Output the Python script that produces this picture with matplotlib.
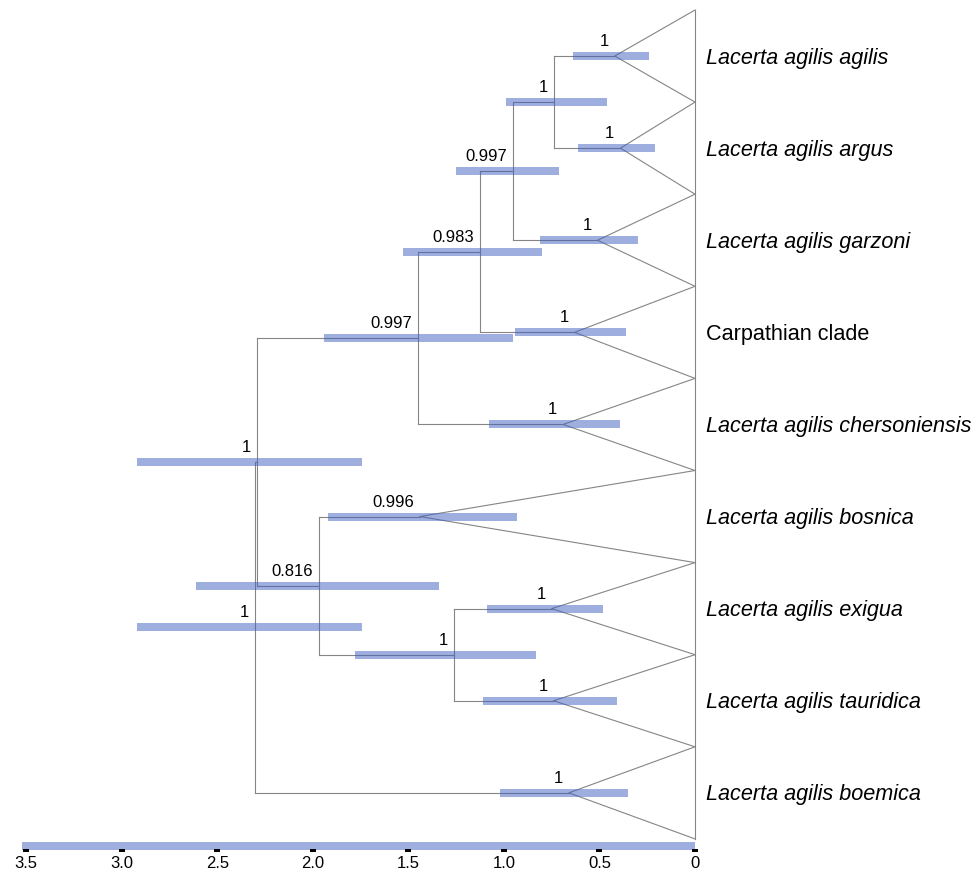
import matplotlib
matplotlib.use("Agg")
import matplotlib.pyplot as plt

plt.rcParams["font.family"] = ["Liberation Sans", "DejaVu Sans"]

# collapsed clades, top to bottom (ages in Myr)
tip_keys = ["agilis", "argus", "garzoni", "carpathian", "chersoniensis",
            "bosnica", "exigua", "tauridica", "boemica"]
tip_labels = ["Lacerta agilis agilis", "Lacerta agilis argus", "Lacerta agilis garzoni",
              "Carpathian clade", "Lacerta agilis chersoniensis", "Lacerta agilis bosnica",
              "Lacerta agilis exigua", "Lacerta agilis tauridica", "Lacerta agilis boemica"]
tip_age = [0.42, 0.39, 0.51, 0.63, 0.69, 1.44, 0.75, 0.74, 0.66]
tip_hpd_lo = [0.24, 0.21, 0.30, 0.36, 0.39, 0.93, 0.48, 0.41, 0.35]
tip_hpd_hi = [0.64, 0.61, 0.81, 0.94, 1.08, 1.92, 1.09, 1.11, 1.02]
tip_post = [1, 1, 1, 1, 1, 0.996, 1, 1, 1]

# internal nodes (children listed before parents)
node_names = ["D", "C", "B", "A", "F", "E", "R1", "R0"]
node_children = [("agilis", "argus"), ("D", "garzoni"), ("C", "carpathian"),
                 ("B", "chersoniensis"), ("exigua", "tauridica"), ("bosnica", "F"),
                 ("A", "E"), ("R1", "boemica")]
node_age = [0.74, 0.95, 1.125, 1.45, 1.26, 1.97, 2.29, 2.305]
node_hpd_lo = [0.46, 0.71, 0.80, 0.95, 0.83, 1.34, 1.74, 1.74]
node_hpd_hi = [0.99, 1.25, 1.53, 1.94, 1.78, 2.61, 2.92, 2.92]
node_post = [1, 0.997, 0.983, 0.997, 1, 0.816, 1, 1]

scale_ticks = [3.5, 3.0, 2.5, 2.0, 1.5, 1.0, 0.5, 0]
scale_labels = ["3.5", "3.0", "2.5", "2.0", "1.5", "1.0", "0.5", "0"]
scale_max = 3.52

line_col = "#858585"
bar_col = "#3f5fbf"
bar_h = 0.087

fig = plt.figure(figsize=(9.79, 8.71), dpi=100)
ax = fig.add_axes([0, 19 / 871, 1, 852 / 871])

age = dict(zip(tip_keys, tip_age))
ypos = {k: i + 0.5 for i, k in enumerate(tip_keys)}
for name, kids, a in zip(node_names, node_children, node_age):
    age[name] = a
    ypos[name] = (ypos[kids[0]] + ypos[kids[1]]) / 2

# elbow branches
for name, kids in zip(node_names, node_children):
    ax.plot([age[name], age[name]], [ypos[kids[0]], ypos[kids[1]]],
            color=line_col, lw=0.8, zorder=1)
    for k in kids:
        ax.plot([age[name], age[k]], [ypos[k], ypos[k]], color=line_col, lw=0.8, zorder=1)

# collapsed clade triangles
for i, k in enumerate(tip_keys):
    ax.plot([0, age[k], 0], [i, ypos[k], i + 1], color=line_col, lw=0.8, zorder=1)
ax.plot([0, 0], [0, len(tip_keys)], color=line_col, lw=0.8, zorder=1)

# 95% HPD bars and posterior labels
all_names = tip_keys + node_names
all_lo = tip_hpd_lo + node_hpd_lo
all_hi = tip_hpd_hi + node_hpd_hi
all_post = tip_post + node_post
for name, lo, hi, p in zip(all_names, all_lo, all_hi, all_post):
    ax.barh(ypos[name], hi - lo, left=lo, height=bar_h, color=bar_col, alpha=0.5,
            lw=0, zorder=2)
    ax.annotate(f"{p:g}", (age[name], ypos[name]), xytext=(-6, 10),
                textcoords="offset pixels", ha="right", va="baseline", fontsize=12)

# clade names
for i, (k, lab) in enumerate(zip(tip_keys, tip_labels)):
    ax.annotate(lab, (0, ypos[k]), xytext=(11, -2), textcoords="offset pixels",
                ha="left", va="center", fontsize=15.6,
                style="normal" if lab == "Carpathian clade" else "italic")

# time scale bar
ax.barh(len(tip_keys) + 0.077, scale_max, left=0, height=bar_h,
        color=bar_col, alpha=0.5, lw=0, zorder=0.5)
ax.set_xticks(scale_ticks)
ax.set_xticklabels(scale_labels)
ax.set_yticks([])
ax.tick_params(axis="x", direction="in", length=2.4, width=4.3, color="black",
               pad=3, labelsize=12)
for s in ax.spines.values():
    s.set_visible(False)

ax.set_xlim(695 / 191.1, (695 - 979) / 191.1)
ax.set_ylim((852 - 10) / 92.1, -10 / 92.1)

plt.savefig("out.png", dpi=100)
